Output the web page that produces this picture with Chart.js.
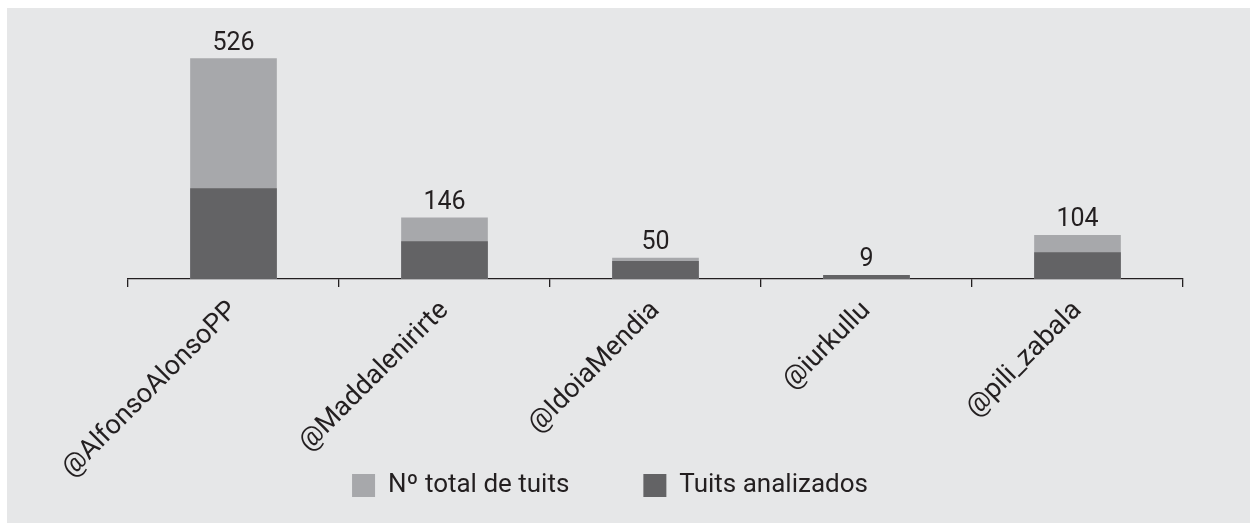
<!DOCTYPE html>
<html>
<head>
<meta charset="utf-8">
<script src="https://cdn.jsdelivr.net/npm/chart.js@4.4.1/dist/chart.umd.min.js"></script>
<style>
  html, body { margin: 0; padding: 0; background: #ffffff; }
  #wrap { width: 1250px; height: 523px; }
</style>
</head>
<body>
<div id="wrap"><canvas id="c" width="1250" height="523"></canvas></div>
<script>
const categories = ['@AlfonsoAlonsoPP', '@Maddalenirirte', '@IdoiaMendia', '@iurkullu', '@pili_zabala'];
const totalTuits = [526, 146, 50, 9, 104];
const analyzedTuits = [216, 89, 42, 9, 63];
const seriesNames = ['Nº total de tuits', 'Tuits analizados'];

const TEXT = '#231f20';
Chart.defaults.font.family = 'Roboto, "Liberation Sans", sans-serif';

const bgPlugin = {
  id: 'bg',
  beforeDraw(chart) {
    // let the rotated category labels extend below the axis box (no clipping)
    if (chart.scales.x) chart.scales.x.bottom = chart.height;
    const ctx = chart.ctx;
    ctx.save();
    ctx.fillStyle = '#ffffff';
    ctx.fillRect(0, 0, chart.width, chart.height);
    ctx.fillStyle = '#e6e7e8';
    ctx.fillRect(7, 8, chart.width - 7, chart.height - 8);
    ctx.restore();
  }
};

const valueLabels = {
  id: 'valueLabels',
  afterDatasetsDraw(chart) {
    const ctx = chart.ctx;
    const meta = chart.getDatasetMeta(0);
    ctx.save();
    ctx.font = '25px ' + Chart.defaults.font.family;
    ctx.fillStyle = TEXT;
    ctx.textAlign = 'center';
    ctx.textBaseline = 'alphabetic';
    meta.data.forEach((bar, i) => {
      ctx.fillText(String(totalTuits[i]), bar.x, bar.y - 9);
    });
    ctx.restore();
  }
};

new Chart(document.getElementById('c'), {
  type: 'bar',
  data: {
    labels: categories,
    datasets: [
      { label: seriesNames[0], data: totalTuits, backgroundColor: '#a7a8ab', borderWidth: 0, barThickness: 86, order: 1 },
      { label: seriesNames[1], data: analyzedTuits, backgroundColor: '#636365', borderWidth: 0, barThickness: 86, order: 0 }
    ]
  },
  options: {
    responsive: false,
    animation: false,
    devicePixelRatio: 1,
    layout: { padding: { left: 0, right: 30, top: 27.5, bottom: 14.5 } },
    plugins: {
      tooltip: { enabled: false },
      legend: {
        position: 'bottom',
        labels: {
          boxWidth: 23, boxHeight: 23, padding: 74,
          color: TEXT, font: { size: 26 },
          sort: (a, b) => a.datasetIndex - b.datasetIndex
        }
      }
    },
    scales: {
      x: {
        stacked: true,
        offset: true,
        grid: { offset: true, drawOnChartArea: false, tickLength: 8, color: TEXT, lineWidth: 1.3 },
        border: { color: TEXT, width: 1.3 },
        ticks: { minRotation: 45, maxRotation: 45, color: TEXT, font: { size: 27 }, padding: 8, autoSkip: false },
        afterFit: (s) => { s.height = 119.5; }
      },
      y: {
        stacked: false, min: 0, max: 600,
        grid: { display: false }, border: { display: false },
        ticks: { display: false },
        afterFit: (s) => { s.width = 128; }
      },
      y2: {
        position: 'right', min: 0, max: 600,
        grid: { display: false }, border: { display: false },
        ticks: { display: false },
        afterFit: (s) => { s.width = 37; }
      }
    }
  },
  plugins: [bgPlugin, valueLabels]
});
</script>
</body>
</html>
